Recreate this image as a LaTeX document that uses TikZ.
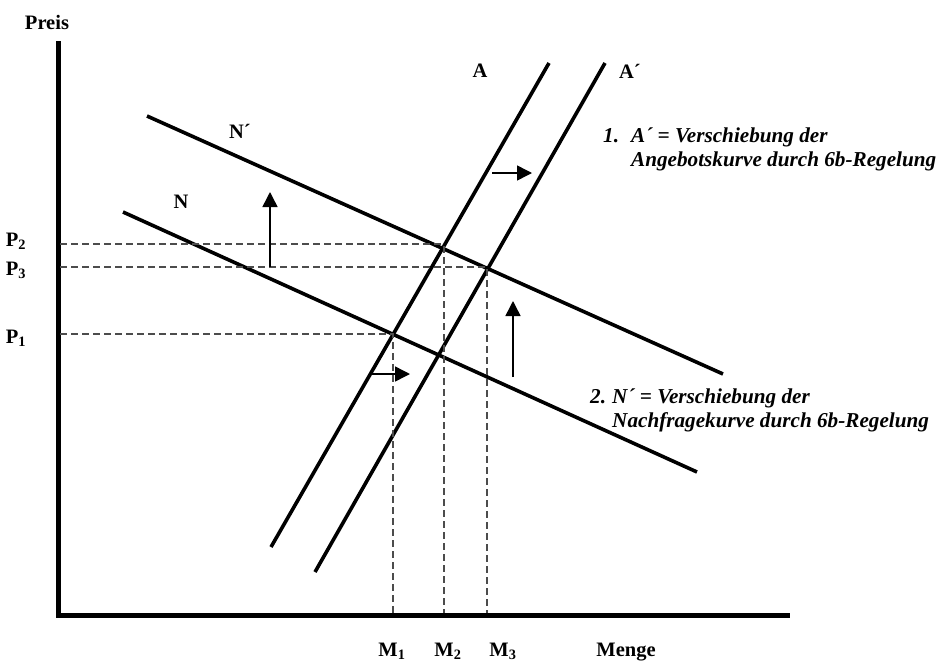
\documentclass[tikz,border=0pt]{standalone}
\usepackage{fontspec}
\setmainfont{Liberation Serif}
\usetikzlibrary{arrows.meta}
\tikzset{
  axis/.style={line width=5pt},
  curve/.style={line width=3.6pt},
  guide/.style={line width=1.3pt, draw=black!70, dash pattern=on 7pt off 4pt},
  movearrow/.style={line width=1.5pt, -{Triangle[length=15pt,width=15pt]}},
  lab/.style={font=\fontsize{20.5}{24}\selectfont\bfseries, inner sep=0pt},
  note/.style={font=\fontsize{21.2}{24}\selectfont\bfseries\itshape, inner sep=0pt, anchor=base west}
}
\begin{document}
\begin{tikzpicture}[x=1pt,y=-1pt]
\path[use as bounding box] (0,0) rectangle (940,662);
% axes
\coordinate (ytop) at (58,41);
\coordinate (orig) at (58,615);
\coordinate (xend) at (790,615);
\draw[axis] (ytop) -- (orig) -- (xend);
% curves
\coordinate (Ab) at (271,547);  \coordinate (At) at (549,63);
\coordinate (Apb) at (315,572); \coordinate (Apt) at (605,63);
\coordinate (Nl) at (123,212);  \coordinate (Nr) at (697,472);
\coordinate (Npl) at (147,116); \coordinate (Npr) at (723,374);
\draw[curve] (Ab) -- (At);
\draw[curve] (Apb) -- (Apt);
\draw[curve] (Nl) -- (Nr);
\draw[curve] (Npl) -- (Npr);
% intersections
\coordinate (E1) at (393,334);
\coordinate (E2) at (444,246);
\coordinate (E3) at (487,267);
\coordinate (p1) at (60,334);
\coordinate (p2) at (60,244);
\coordinate (p3) at (60,267);
\coordinate (m1) at (393,613);
\coordinate (m2) at (444,613);
\coordinate (m3) at (487,613);
\draw[guide] (p1) -- (E1) -- (m1);
\draw[guide] (p2) -- (E2 |- p2);
\draw[guide] (E2) -- (m2);
\draw[guide] (p3) -- (E3) -- (m3);
% shift arrows
\coordinate (u1s) at (270,267); \coordinate (u1e) at (270,192);
\coordinate (u2s) at (513,377); \coordinate (u2e) at (513,301);
\coordinate (r1s) at (372,374); \coordinate (r1e) at (410,374);
\coordinate (r2s) at (492,173); \coordinate (r2e) at (532,173);
\draw[movearrow] (u1s) -- (u1e);
\draw[movearrow] (u2s) -- (u2e);
\draw[movearrow] (r1s) -- (r1e);
\draw[movearrow] (r2s) -- (r2e);
% labels
\node[lab] (preis) at (47,22) {Preis};
\node[lab] (lP2) at (16,241) {P\textsubscript{2}};
\node[lab] (lP3) at (16,270) {P\textsubscript{3}};
\node[lab] (lP1) at (16,338) {P\textsubscript{1}};
\node[lab] (lM1) at (392,651) {M\textsubscript{1}};
\node[lab] (lM2) at (448,651) {M\textsubscript{2}};
\node[lab] (lM3) at (503,651) {M\textsubscript{3}};
\node[lab] (menge) at (626,652) {Menge};
\node[lab] (lA) at (480,71) {A};
\node[lab] (lAp) at (630,71) {A´};
\node[lab] (lN) at (181,202) {N};
\node[lab] (lNp) at (240,131) {N´};
% notes
\node[note] (n1num) at (603,142) {1.};
\node[note] (n1a) at (631,142) {A´ = Verschiebung der};
\node[note] (n1b) at (631,166) {Angebotskurve durch 6b-Regelung};
\node[note] (n2num) at (590,403) {2.};
\node[note] (n2a) at (612,403) {N´ = Verschiebung der};
\node[note] (n2b) at (612,427) {Nachfragekurve durch 6b-Regelung};
\end{tikzpicture}
\end{document}
